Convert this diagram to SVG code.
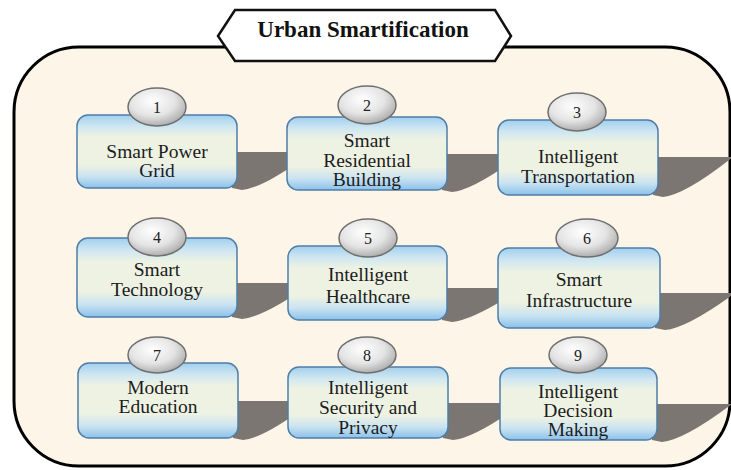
<svg xmlns="http://www.w3.org/2000/svg" width="731" height="470" viewBox="0 0 731 470">
  <defs>
    <linearGradient id="boxg" x1="0" y1="0" x2="0" y2="1">
      <stop offset="0" stop-color="#a2cfee"/>
      <stop offset="0.16" stop-color="#d0e7f1"/>
      <stop offset="0.3" stop-color="#edf2e3"/>
      <stop offset="0.68" stop-color="#edf2e3"/>
      <stop offset="0.84" stop-color="#cae3f1"/>
      <stop offset="1" stop-color="#8bc1ea"/>
    </linearGradient>
    <radialGradient id="circg" cx="0.42" cy="0.35" r="0.7">
      <stop offset="0" stop-color="#ffffff"/>
      <stop offset="0.55" stop-color="#e4e4e4"/>
      <stop offset="1" stop-color="#a5a5a5"/>
    </radialGradient>
    <style>
      .frame { fill: #fdf5e7; stroke: #000; stroke-width: 3; }
      .title-box { fill: #fff; stroke: #111; stroke-width: 2.5; stroke-linejoin: miter; }
      .title { font-family: "Liberation Serif", "Times New Roman", serif; font-weight: bold; font-size: 23px; fill: #111; text-anchor: middle; }
      .box { fill: url(#boxg); stroke: #4f7ea8; stroke-width: 1.5; }
      .shadow { fill: #7b7671; }
      .num { fill: url(#circg); stroke: #6f6f6f; stroke-width: 1.5; }
      .numtxt { font-family: "Liberation Serif", "Times New Roman", serif; font-size: 16px; fill: #222; text-anchor: middle; }
      .lbl { font-family: "Liberation Serif", "Times New Roman", serif; font-size: 19.5px; fill: #1c1c1c; text-anchor: middle; }
    </style>
  </defs>

  <rect width="731" height="470" fill="#ffffff"/>
  <rect class="frame" x="14" y="47" width="716" height="419" rx="65" ry="65"/>

  <g id="title">
    <polygon class="title-box" points="218,36 235,10 495,10 511,36 495,61 235,61"/>
    <text class="title" x="363" y="37">Urban Smartification</text>
  </g>

  <g id="node1">
    <path class="shadow" d="M232,152 L312,152 Q264,188 242,190 L232,188 Z"/>
    <rect class="box" x="77" y="115" width="160" height="73" rx="11"/>
    <ellipse class="num" cx="157" cy="107" rx="29" ry="19"/>
    <text class="numtxt" x="157" y="113">1</text>
    <text class="lbl" x="157" y="158">Smart Power</text>
    <text class="lbl" x="157" y="177">Grid</text>
  </g>

  <g id="node2">
    <path class="shadow" d="M442,154 L522,154 Q474,190 452,192 L442,190 Z"/>
    <rect class="box" x="287" y="117" width="160" height="73" rx="11"/>
    <ellipse class="num" cx="367" cy="105" rx="29" ry="19"/>
    <text class="numtxt" x="367" y="111">2</text>
    <text class="lbl" x="367" y="147">Smart</text>
    <text class="lbl" x="367" y="167">Residential</text>
    <text class="lbl" x="367" y="186">Building</text>
  </g>

  <g id="node3">
    <path class="shadow" d="M653,157 L733,157 Q685,195 663,197 L653,195 Z"/>
    <rect class="box" x="498" y="120" width="160" height="75" rx="11"/>
    <ellipse class="num" cx="577" cy="112" rx="29" ry="19"/>
    <text class="numtxt" x="577" y="118">3</text>
    <text class="lbl" x="578" y="163">Intelligent</text>
    <text class="lbl" x="578" y="183">Transportation</text>
  </g>

  <g id="node4">
    <path class="shadow" d="M232,283 L312,283 Q264,317 242,319 L232,317 Z"/>
    <rect class="box" x="77" y="238" width="160" height="79" rx="11"/>
    <ellipse class="num" cx="157" cy="237" rx="29" ry="19"/>
    <text class="numtxt" x="157" y="243">4</text>
    <text class="lbl" x="157" y="276">Smart</text>
    <text class="lbl" x="157" y="296">Technology</text>
  </g>

  <g id="node5">
    <path class="shadow" d="M442,288 L522,288 Q474,320 452,322 L442,320 Z"/>
    <rect class="box" x="288" y="246" width="159" height="74" rx="11"/>
    <ellipse class="num" cx="368" cy="238" rx="29" ry="19"/>
    <text class="numtxt" x="368" y="244">5</text>
    <text class="lbl" x="368" y="281">Intelligent</text>
    <text class="lbl" x="368" y="303">Healthcare</text>
  </g>

  <g id="node6">
    <path class="shadow" d="M655,293 L735,293 Q687,328 665,330 L655,328 Z"/>
    <rect class="box" x="498" y="248" width="162" height="80" rx="11"/>
    <ellipse class="num" cx="587" cy="238" rx="31" ry="19"/>
    <text class="numtxt" x="587" y="244">6</text>
    <text class="lbl" x="579" y="286">Smart</text>
    <text class="lbl" x="579" y="307">Infrastructure</text>
  </g>

  <g id="node7">
    <path class="shadow" d="M233,401 L313,401 Q265,438 243,440 L233,438 Z"/>
    <rect class="box" x="78" y="363" width="160" height="75" rx="11"/>
    <ellipse class="num" cx="157" cy="355" rx="29" ry="18"/>
    <text class="numtxt" x="157" y="361">7</text>
    <text class="lbl" x="158" y="394">Modern</text>
    <text class="lbl" x="158" y="413">Education</text>
  </g>

  <g id="node8">
    <path class="shadow" d="M443,403 L523,403 Q475,438 453,440 L443,438 Z"/>
    <rect class="box" x="288" y="367" width="160" height="71" rx="11"/>
    <ellipse class="num" cx="367" cy="355" rx="29" ry="18"/>
    <text class="numtxt" x="367" y="361">8</text>
    <text class="lbl" x="368" y="394">Intelligent</text>
    <text class="lbl" x="368" y="414">Security and</text>
    <text class="lbl" x="368" y="434">Privacy</text>
  </g>

  <g id="node9">
    <path class="shadow" d="M652,404 L732,404 Q684,440 662,442 L652,440 Z"/>
    <rect class="box" x="500" y="368" width="157" height="72" rx="11"/>
    <ellipse class="num" cx="578" cy="355" rx="29" ry="18"/>
    <text class="numtxt" x="578" y="361">9</text>
    <text class="lbl" x="578" y="398">Intelligent</text>
    <text class="lbl" x="578" y="417">Decision</text>
    <text class="lbl" x="578" y="436">Making</text>
  </g>
</svg>
